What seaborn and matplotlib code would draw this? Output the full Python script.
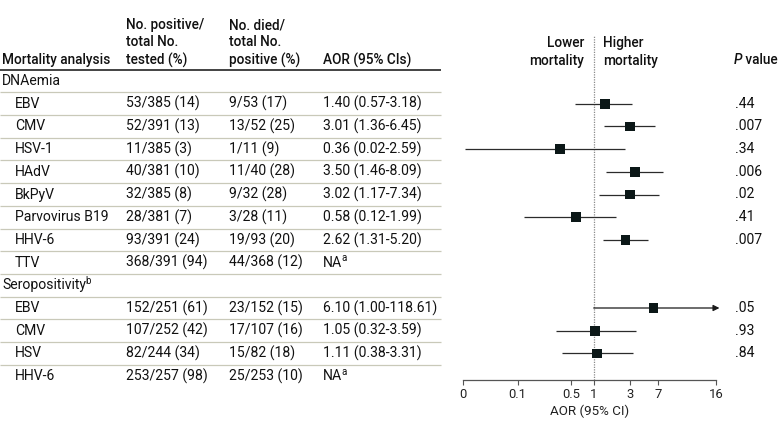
"""Forest plot of mortality by viral DNAemia / seropositivity, with its table."""
import numpy as np
import pandas as pd
import matplotlib
matplotlib.use("Agg")
import matplotlib.pyplot as plt
import seaborn as sns

# ---- data ------------------------------------------------------------------
DNA_VIRUSES = ["EBV", "CMV", "HSV-1", "HAdV", "BkPyV", "Parvovirus B19", "HHV-6", "TTV"]
DNA_POSITIVE = [53, 52, 11, 40, 32, 28, 93, 368]
DNA_TESTED = [385, 391, 385, 381, 385, 381, 391, 391]
DNA_POS_PCT = [14, 13, 3, 10, 8, 7, 24, 94]
DNA_DIED = [9, 13, 1, 11, 9, 3, 19, 44]
DNA_DIED_PCT = [17, 25, 9, 28, 28, 11, 20, 12]
DNA_AOR = [1.40, 3.01, 0.36, 3.50, 3.02, 0.58, 2.62, np.nan]
DNA_LOW = [0.57, 1.36, 0.02, 1.46, 1.17, 0.12, 1.31, np.nan]
DNA_HIGH = [3.18, 6.45, 2.59, 8.09, 7.34, 1.99, 5.20, np.nan]
DNA_P = [".44", ".007", ".34", ".006", ".02", ".41", ".007", ""]

SERO_VIRUSES = ["EBV", "CMV", "HSV", "HHV-6"]
SERO_POSITIVE = [152, 107, 82, 253]
SERO_TESTED = [251, 252, 244, 257]
SERO_POS_PCT = [61, 42, 34, 98]
SERO_DIED = [23, 17, 15, 25]
SERO_DIED_PCT = [15, 16, 18, 10]
SERO_AOR = [6.10, 1.05, 1.11, np.nan]
SERO_LOW = [1.00, 0.32, 0.38, np.nan]
SERO_HIGH = [118.61, 3.59, 3.31, np.nan]
SERO_P = [".05", ".93", ".84", ""]

GROUPS = [("DNAemia", "", DNA_VIRUSES, DNA_POSITIVE, DNA_TESTED, DNA_POS_PCT, DNA_DIED,
           DNA_DIED_PCT, DNA_AOR, DNA_LOW, DNA_HIGH, DNA_P),
          ("Seropositivity", "b", SERO_VIRUSES, SERO_POSITIVE, SERO_TESTED, SERO_POS_PCT, SERO_DIED,
           SERO_DIED_PCT, SERO_AOR, SERO_LOW, SERO_HIGH, SERO_P)]

TICK_LABELS = ["0", "0.1", "0.5", "1", "3", "7", "16"]
HEADERS = [["Mortality analysis"], ["No. positive/", "total No.", "tested (%)"],
           ["No. died/", "total No.", "positive (%)"], ["AOR (95% CIs)"]]

# ---- layout (pixels of the 780x432 canvas) ---------------------------------
W, H = 780, 432
ROW0, STEP = 81.0, 22.7
COL_X = [2, 126, 229, 323]
INDENT = 13
P_X = 735
TABLE_RIGHT = 441
AX_L, AX_R, AX_T, AX_B = 462.7, 716.3, 35, 380
PX_PER_DECADE = 76.0
ONE_X = 593.7
XMIN = 10 ** (-(ONE_X - AX_L) / PX_PER_DECADE)
XMAX = 10 ** ((AX_R - ONE_X) / PX_PER_DECADE)
TICK_POS = [XMIN, 0.1, 0.5, 1, 3, 7, XMAX]

INK = "#111111"
RULE = "#c9c9b9"
FS = 10.1
HFS = 9.8
HW = "medium"

sns.set_theme(style="white")
plt.rcParams["font.family"] = ["Roboto", "DejaVu Sans"]

# one frame holding every table row
records = []
row = 0
for name, note, viruses, pos, tested, ppct, died, dpct, aor, low, high, pvals in GROUPS:
    records.append(dict(row=row, label=name, note=note, kind="group"))
    row += 1
    for i, v in enumerate(viruses):
        records.append(dict(row=row, label=v, note="", kind="item",
                            tested=f"{pos[i]}/{tested[i]} ({ppct[i]})",
                            died=f"{died[i]}/{pos[i]} ({dpct[i]})",
                            aor=aor[i], low=low[i], high=high[i], p=pvals[i]))
        row += 1
df = pd.DataFrame(records)
n_rows = len(df)

fig = plt.figure(figsize=(W / 100, H / 100), dpi=100)
bg = fig.add_axes([0, 0, 1, 1])
bg.set_xlim(0, W)
bg.set_ylim(H, 0)
bg.axis("off")


def superscript(parent, mark):
    bg.annotate(mark, xy=(1, 0.8), xycoords=parent, xytext=(-0.8, 0), textcoords="offset points",
                ha="left", va="center", fontsize=FS * 0.7, color=INK)


# header
line_gap = 17.5
for col, lines in enumerate(HEADERS):
    for j, txt in enumerate(lines):
        y = 60 - (len(lines) - 1 - j) * line_gap
        bg.text(COL_X[col], y, txt, ha="left", va="center", fontsize=HFS,
                fontweight=HW, color=INK)
pt = bg.text(P_X - 1, 60, "P", ha="left", va="center", fontsize=HFS, fontweight=HW,
             fontstyle="italic", color=INK)
bg.annotate(" value", xy=(1, 0.5), xycoords=pt, ha="left", va="center", fontsize=HFS,
            fontweight=HW, color=INK)
bg.plot([0, TABLE_RIGHT], [69.5, 69.5], color=INK, lw=1.1, solid_capstyle="butt")

# table body
for _, r in df.iterrows():
    y = ROW0 + r["row"] * STEP
    if r["kind"] == "group":
        t = bg.text(COL_X[0], y, r["label"], ha="left", va="center", fontsize=FS, color=INK)
        if r["note"]:
            superscript(t, r["note"])
    else:
        bg.text(COL_X[0] + INDENT, y, r["label"], ha="left", va="center", fontsize=FS, color=INK)
        bg.text(COL_X[1], y, r["tested"], ha="left", va="center", fontsize=FS, color=INK)
        bg.text(COL_X[2], y, r["died"], ha="left", va="center", fontsize=FS, color=INK)
        if np.isnan(r["aor"]):
            t = bg.text(COL_X[3], y, "NA", ha="left", va="center", fontsize=FS, color=INK)
            superscript(t, "a")
        else:
            bg.text(COL_X[3], y, f"{r['aor']:.2f} ({r['low']:.2f}-{r['high']:.2f})",
                    ha="left", va="center", fontsize=FS, color=INK)
        bg.text(P_X, y, r["p"], ha="left", va="center", fontsize=FS, color=INK)
    if r["row"] < n_rows - 1:
        bg.plot([0, TABLE_RIGHT], [y + STEP / 2] * 2, color=RULE, lw=0.9, solid_capstyle="butt")

# ---- forest panel ----------------------------------------------------------
ax = fig.add_axes([AX_L / W, 1 - AX_B / H, (AX_R - AX_L) / W, (AX_B - AX_T) / H])
ax.set_xscale("log")
ax.set_xlim(XMIN, XMAX)
ax.set_ylim((AX_B - ROW0) / STEP, (AX_T - ROW0) / STEP)
ax.patch.set_alpha(0)

est = df[(df["kind"] == "item") & df["aor"].notna()].copy()
clipped = est[est["high"] > XMAX]
plain = est[est["high"] <= XMAX]

ax.axvline(1, color="#8a8a8a", lw=0.9, ls=(0, (1, 1)), zorder=1)
ax.hlines(plain["row"], plain["low"], plain["high"], color="#2b2b2b", lw=0.9, zorder=2)
for _, r in clipped.iterrows():
    ax.annotate("", xy=(XMAX * 1.1, r["row"]), xytext=(r["low"], r["row"]),
                arrowprops=dict(arrowstyle="-|>", color="#1a1a1a", lw=0.9,
                                mutation_scale=9, shrinkA=0, shrinkB=0),
                annotation_clip=False)
sns.scatterplot(data=est, x="aor", y="row", marker="s", s=48, color="#0b1717",
                edgecolor="none", ax=ax, zorder=3, legend=False)

sns.despine(ax=ax, left=True, top=True, right=True)
ax.spines["bottom"].set_color("#555555")
ax.spines["bottom"].set_linewidth(0.9)
ax.set_yticks([])
ax.set_xticks(TICK_POS)
ax.set_xticklabels(TICK_LABELS)
ax.xaxis.set_minor_locator(matplotlib.ticker.NullLocator())
ax.tick_params(axis="x", which="major", direction="out", length=3.5, width=0.8,
               color="#555555", labelsize=9.4, labelcolor="#222222", pad=2, bottom=True)
ax.set_xlabel("AOR (95% CI)", fontsize=9.6, color="#222222", labelpad=3)
ax.set_ylabel("")

# direction labels above the panel
for txt, y in [("Lower", 43), ("mortality", 61)]:
    bg.text(584, y, txt, ha="right", va="center", fontsize=HFS, fontweight=HW, color=INK)
for txt, y in [("Higher", 43), ("mortality", 61)]:
    bg.text(603, y, txt, ha="left", va="center", fontsize=HFS, fontweight=HW, color=INK)

fig.savefig("out.png", dpi=100)
